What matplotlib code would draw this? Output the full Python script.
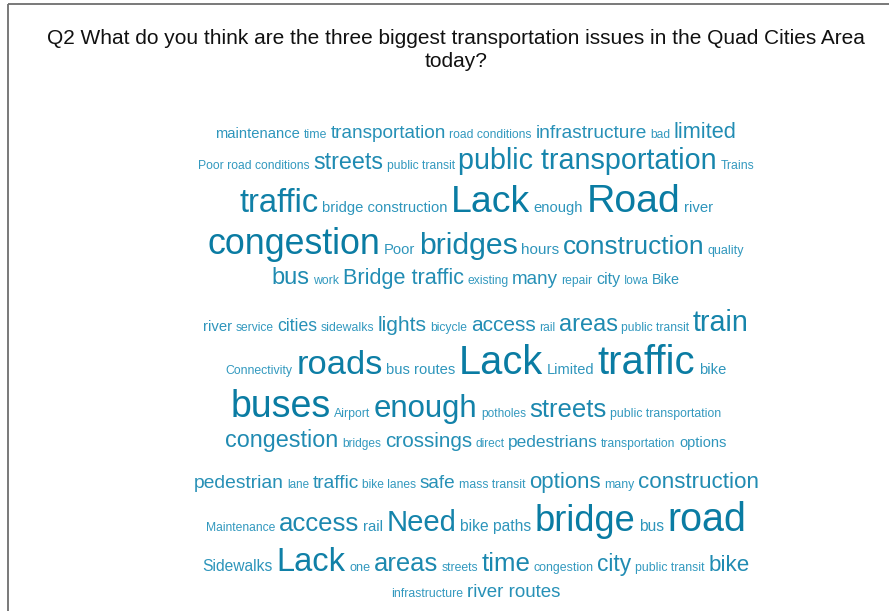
import numpy as np
from matplotlib import pyplot as plt
from matplotlib.colors import to_rgb

plt.rcParams['font.family'] = ['Liberation Sans', 'DejaVu Sans']

title = 'Q2 What do you think are the three biggest transportation issues in the Quad Cities Area'
title2 = 'today?'

# word cloud rows: words and their size (px em)
row1_words = ['maintenance', 'time', 'transportation', 'road conditions', 'infrastructure', 'bad', 'limited']
row1_sizes = [14.8, 12.2, 19.0, 12.1, 19.2, 12.0, 21.8]
row2_words = ['Poor road conditions', 'streets', 'public transit', 'public transportation', 'Trains']
row2_sizes = [12.1, 23.3, 12.1, 28.7, 12.2]
row3_words = ['traffic', 'bridge construction', 'Lack', 'enough', 'Road', 'river']
row3_sizes = [32.7, 14.8, 37.4, 14.7, 39.3, 14.9]
row4_words = ['congestion', 'Poor', 'bridges', 'hours', 'construction', 'quality']
row4_sizes = [35.8, 14.7, 30.2, 15.2, 26.2, 12.5]
row5_words = ['bus', 'work', 'Bridge traffic', 'existing', 'many', 'repair', 'city', 'Iowa', 'Bike']
row5_sizes = [23.6, 12.3, 21.7, 12.1, 18.8, 12.1, 16.0, 11.8, 14.4]
row6_words = ['river', 'service', 'cities', 'sidewalks', 'lights', 'bicycle', 'access', 'rail', 'areas',
              'public transit', 'train']
row6_sizes = [14.9, 12.0, 17.6, 12.2, 21.0, 12.1, 20.9, 12.0, 23.6, 12.1, 28.8]
row7_words = ['Connectivity', 'roads', 'bus routes', 'Lack', 'Limited', 'traffic', 'bike']
row7_sizes = [12.3, 34.4, 14.8, 39.8, 14.6, 40.0, 14.7]
row8_words = ['buses', 'Airport', 'enough', 'potholes', 'streets', 'public transportation']
row8_sizes = [37.5, 12.2, 31.2, 11.9, 25.7, 12.2]
row9_words = ['congestion', 'bridges', 'crossings', 'direct', 'pedestrians', 'transportation', 'options']
row9_sizes = [23.4, 11.9, 20.6, 11.9, 17.4, 12.1, 14.6]
row10_words = ['pedestrian', 'lane', 'traffic', 'bike lanes', 'safe', 'mass transit', 'options', 'many',
               'construction']
row10_sizes = [19.3, 11.6, 19.2, 12.0, 19.0, 12.2, 22.3, 12.3, 22.4]
row11_words = ['Maintenance', 'access', 'rail', 'Need', 'bike paths', 'bridge', 'bus', 'road']
row11_sizes = [12.1, 25.7, 15.0, 29.3, 15.6, 36.3, 15.5, 39.5]
row12_words = ['Sidewalks', 'Lack', 'one', 'areas', 'streets', 'time', 'congestion', 'city',
               'public transit', 'bike']
row12_sizes = [15.6, 32.7, 12.6, 25.6, 12.3, 25.9, 12.4, 22.7, 12.3, 22.4]
row13_words = ['infrastructure', 'river routes']
row13_sizes = [12.2, 18.8]

rows = [
    (row1_words, row1_sizes), (row2_words, row2_sizes), (row3_words, row3_sizes),
    (row4_words, row4_sizes), (row5_words, row5_sizes), (row6_words, row6_sizes),
    (row7_words, row7_sizes), (row8_words, row8_sizes), (row9_words, row9_sizes),
    (row10_words, row10_sizes), (row11_words, row11_sizes), (row12_words, row12_sizes),
    (row13_words, row13_sizes),
]

# layout (pixels)
W, H = 889, 611
baselines = [138, 169, 212, 254, 284, 331, 374, 417, 447, 488, 531, 571, 597]
center_x = 476
gap = 3.5

light = np.array(to_rgb('#3399bf'))
dark = np.array(to_rgb('#0a7ca3'))


def word_color(px):
    t = np.clip((px - 12) / (36 - 12), 0, 1)
    return tuple(light + (dark - light) * t)


fig = plt.figure(figsize=(W / 100, H / 100), dpi=100)
ax = fig.add_axes([0, 0, 1, 1])
ax.set_xlim(0, W)
ax.set_ylim(H, 0)
ax.axis('off')

# frame on the left and top
ax.plot([8, 8], [4, H + 5], color='#6e6e6e', lw=1.3, solid_capstyle='butt')
ax.plot([8, W + 5], [4, 4], color='#6e6e6e', lw=1.3, solid_capstyle='butt')

ax.text(456, 44, title, fontsize=15.05, ha='center', va='baseline', color='#111111')
ax.text(456, 67, title2, fontsize=15.05, ha='center', va='baseline', color='#111111')

renderer = fig.canvas.get_renderer()
for (words, sizes), base in zip(rows, baselines):
    texts = []
    widths = []
    for w, s in zip(words, sizes):
        t = ax.text(0, base, w, fontsize=s * 0.72, ha='left', va='baseline', color=word_color(s))
        texts.append(t)
        widths.append(t.get_window_extent(renderer).width)
    total = sum(widths) + gap * (len(widths) - 1)
    x = center_x - total / 2
    for t, wd in zip(texts, widths):
        t.set_x(x)
        x += wd + gap

fig.savefig('out.png', dpi=100)
